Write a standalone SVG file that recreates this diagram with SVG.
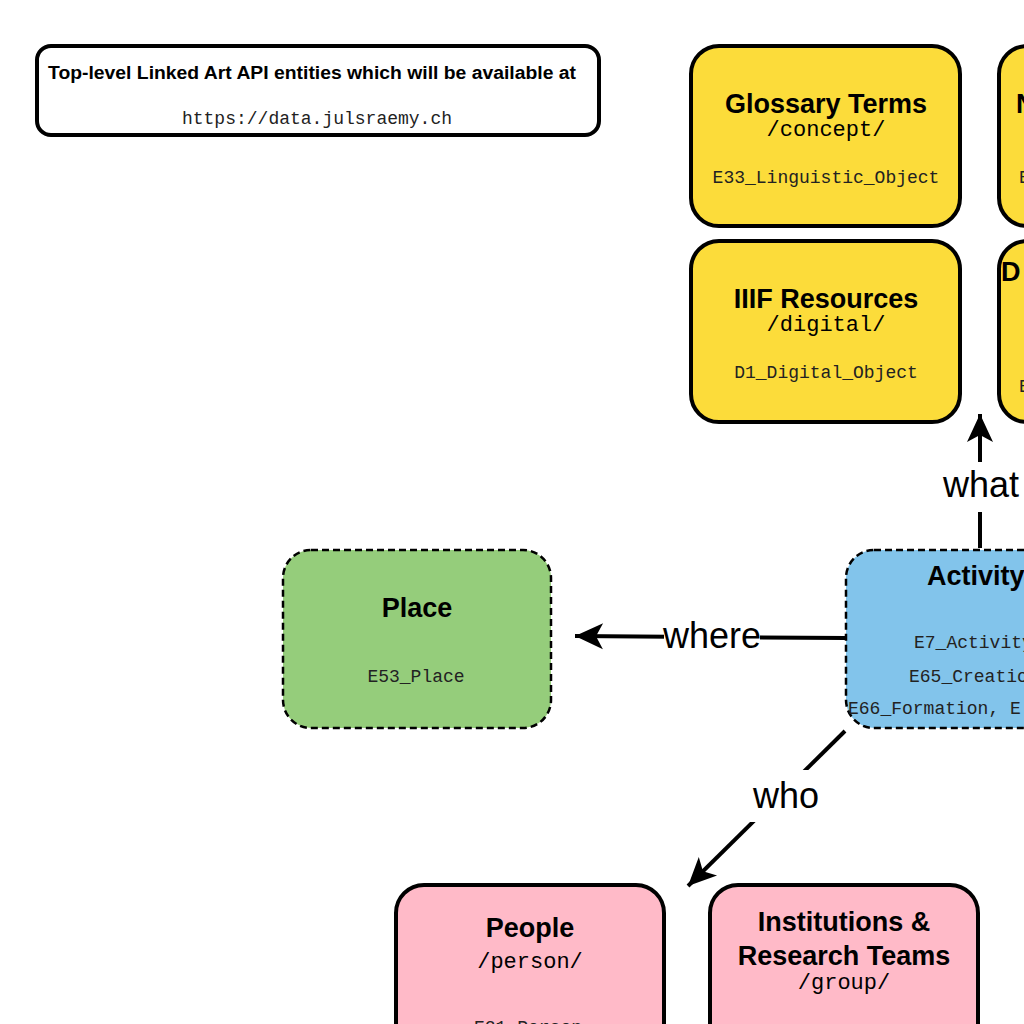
<svg xmlns="http://www.w3.org/2000/svg" width="1024" height="1024" viewBox="0 0 1024 1024">
<defs>
<marker id="arr" markerUnits="userSpaceOnUse" markerWidth="34" markerHeight="34" viewBox="0 0 34 34" refX="30" refY="17" orient="auto">
<path d="M2,4 L30,17 L2,30 L9,17 Z" fill="#000"/>
</marker>
<style>
.solid{stroke:#000;stroke-width:4}
.dash{stroke:#000;stroke-width:2.5;stroke-dasharray:7 4}
.yel{fill:#FCDC3A}
.pink{fill:#FFBAC8}
.green{fill:#95CD7B}
.blue{fill:#82C4EB}
.t{font-family:"Liberation Sans",Arial,sans-serif;font-weight:bold;font-size:27px;fill:#000;text-anchor:middle}
.p{font-family:"Liberation Mono","Courier New",monospace;font-size:22px;fill:#000;text-anchor:middle}
.m{font-family:"Liberation Mono","Courier New",monospace;font-size:18px;fill:#222;text-anchor:middle}
.lab{font-family:"Liberation Sans",Arial,sans-serif;font-size:36px;fill:#000;text-anchor:middle}
.edge{stroke:#000;stroke-width:4;fill:none}
</style>
</defs>
<rect width="1024" height="1024" fill="#fff"/>

<g id="header">
<rect x="37" y="46" width="562" height="89" rx="14" fill="#fff" class="solid"/>
<text x="312" y="79" font-family="Liberation Sans,Arial,sans-serif" font-weight="bold" font-size="18" text-anchor="middle" textLength="528" lengthAdjust="spacingAndGlyphs">Top-level Linked Art API entities which will be available at</text>
<text x="317" y="124" class="m" fill="#000">https://data.julsraemy.ch</text>
</g>

<g id="node-glossary">
<rect x="691" y="46" width="269" height="180" rx="28" class="yel solid"/>
<text x="826" y="113" class="t">Glossary Terms</text>
<text x="826" y="136" class="p">/concept/</text>
<text x="826" y="183" class="m">E33_Linguistic_Object</text>
</g>

<g id="node-right-top">
<rect x="999" y="46" width="269" height="180" rx="28" class="yel solid"/>
<text x="1016" y="113" class="t" style="text-anchor:start">N</text>
<text x="1019" y="183" class="m" style="text-anchor:start">E</text>
</g>

<g id="node-iiif">
<rect x="691" y="241" width="269" height="181" rx="28" class="yel solid"/>
<text x="826" y="308" class="t">IIIF Resources</text>
<text x="826" y="331" class="p">/digital/</text>
<text x="826" y="378" class="m">D1_Digital_Object</text>
</g>

<g id="node-right-bottom">
<rect x="999" y="241" width="269" height="181" rx="28" class="yel solid"/>
<text x="1001" y="281" class="t" style="text-anchor:start">D</text>
<text x="1019" y="392" class="m" style="text-anchor:start">E</text>
</g>

<g id="node-place">
<rect x="283" y="550" width="268" height="178" rx="28" class="green dash"/>
<text x="417" y="617" class="t">Place</text>
<text x="416" y="682" class="m">E53_Place</text>
</g>

<g id="node-activity">
<rect x="846" y="550" width="268" height="178" rx="28" class="blue dash"/>
<text x="927" y="585" class="t" style="text-anchor:start">Activity</text>
<text x="914" y="648" class="m" style="text-anchor:start">E7_Activity,</text>
<text x="909" y="682" class="m" style="text-anchor:start">E65_Creation,</text>
<text x="848" y="714" class="m" style="text-anchor:start">E66_Formation, E</text>
</g>

<g id="node-people">
<rect x="396" y="885" width="268" height="180" rx="28" class="pink solid"/>
<text x="530" y="937" class="t">People</text>
<text x="530" y="968" class="p">/person/</text>
<text x="528" y="1033" class="m">E21_Person</text>
</g>

<g id="node-institutions">
<rect x="710" y="885" width="268" height="180" rx="28" class="pink solid"/>
<text x="844" y="931" class="t">Institutions &amp;</text>
<text x="844" y="965" class="t">Research Teams</text>
<text x="844" y="989" class="p">/group/</text>
</g>

<g id="connectors">
<line x1="980" y1="548" x2="980" y2="414" class="edge" marker-end="url(#arr)"/>
<rect x="940" y="462" width="80" height="50" fill="#fff"/>
<text x="981" y="497" class="lab">what</text>

<line x1="846" y1="638" x2="575" y2="636" class="edge" marker-end="url(#arr)"/>
<rect x="664" y="615" width="96" height="42" fill="#fff"/>
<text x="712" y="648" class="lab">where</text>

<line x1="845" y1="731" x2="688" y2="886" class="edge" marker-end="url(#arr)"/>
<rect x="748" y="770" width="78" height="52" fill="#fff"/>
<text x="786" y="808" class="lab">who</text>
</g>
</svg>
